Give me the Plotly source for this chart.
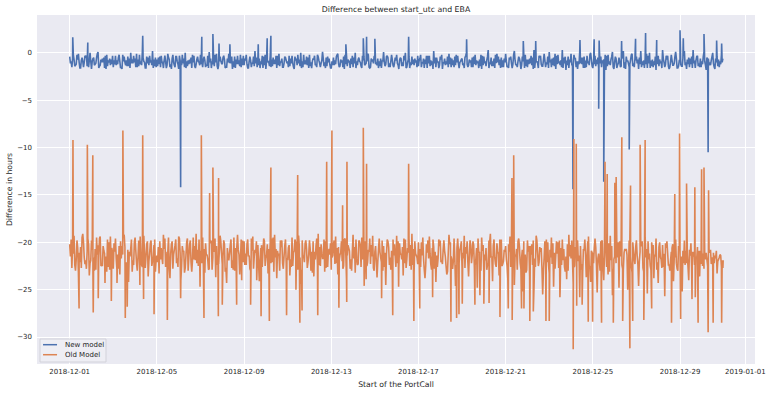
import numpy as np
import pandas as pd
import plotly.graph_objects as go

# ---------------- data ----------------
START = "2018-12-01"
STEP_DAYS = 0.1  # spacing of each set of band readings

# New model: three interleaved sets of band readings (hours)
new_band = [
    -0.4,-1.5,-0.7,-1.2,-0.1,-1.6,-0.9,-0.3,-1.4,-0.8,-1.7,-0.5,-1.1,0.1,-1.3,-0.6,-1.6,-0.2,-1.0,-0.7,
    -1.5,-0.3,-1.2,-0.9,-1.7,-0.4,-0.8,-1.4,0.0,-1.1,-0.6,-1.5,-0.2,-1.3,-0.9,-1.6,-0.5,-1.0,0.2,-1.4,
    -0.7,-1.2,-0.3,-1.6,-0.9,-0.1,-1.5,-0.6,-1.3,-0.4,-1.7,-0.8,-1.1,0.0,-1.4,-0.7,-1.6,-0.3,-1.2,-0.9,
    -0.2,-1.5,-0.8,-1.3,0.1,-1.6,-0.5,-1.0,-1.7,-0.4,-1.2,-0.7,-1.5,-0.1,-1.1,-0.9,-1.6,-0.3,-1.4,-0.6,
    -1.3,-0.2,-1.6,-0.8,-1.1,0.2,-1.5,-0.6,-1.2,-0.4,-1.7,-0.9,-0.3,-1.4,-0.7,-1.6,-0.1,-1.0,-1.5,-0.5,
    -0.9,-1.4,-0.3,-1.7,-0.6,-1.1,0.0,-1.5,-0.8,-1.3,-0.2,-1.6,-0.7,-1.2,-0.4,-1.5,0.1,-1.0,-1.4,-0.6,
    -1.6,-0.5,-1.2,-0.1,-1.4,-0.8,-1.7,-0.3,-1.0,-0.6,-1.5,0.0,-1.3,-0.9,-1.6,-0.4,-1.1,-0.2,-1.5,-0.7,
    -0.3,-1.3,-0.9,-1.6,0.1,-1.2,-0.5,-1.5,-0.7,-1.1,-0.2,-1.7,-0.6,-1.4,0.0,-1.0,-1.6,-0.4,-1.3,-0.8,
    -1.4,-0.2,-1.1,-0.7,-1.6,-0.3,-1.3,0.2,-1.5,-0.9,-0.4,-1.7,-0.6,-1.2,-0.1,-1.5,-0.8,-1.3,-0.3,-1.0,
    -0.6,-1.6,0.0,-1.3,-0.8,-1.5,-0.2,-1.1,-0.7,-1.7,-0.4,-1.4,0.3,-1.2,-0.9,-1.6,-0.1,-1.3,-0.5,-1.5,
    -0.1,-1.4,-0.7,-1.6,0.2,-1.2,-0.4,-1.7,-0.9,-0.2,-1.5,-0.6,-1.3,0.3,-1.0,-1.6,-0.3,-1.4,-0.8,-1.2,
    0.1,-1.5,-0.5,-1.7,-0.2,-1.3,0.3,-1.1,-0.8,-1.6,-0.1,-1.4,-0.6,-1.7,0.2,-1.2,-0.4,-1.5,-0.9,0.0,
    -1.6,-0.3,-1.2,0.3,-1.5,-0.7,-1.8,-0.2,-1.3,0.1,-1.0,-1.6,-0.5,-1.4,0.2,-1.7,-0.8,-1.2,-0.1,-1.5,
    -0.4,-1.7,0.2,-1.3,-0.6,-1.6,0.0,-1.4,-0.9,-1.8,-0.3,-1.1,0.3,-1.5,-0.7,-1.7,-0.2,-1.3,0.1,-1.6,
    -0.8,-1.4,0.2,-1.7,-0.5,-1.2,0.3,-1.6,-0.3,-1.5,-0.9,0.1,-1.8,-0.6,-1.3,0.0,-1.7,-0.4,-1.5,-0.2,
]
new_band_b = [
    -1.1,-0.6,-1.4,-0.2,-1.0,-0.8,-1.5,-0.4,-1.2,0.0,-0.9,-1.3,-0.5,-1.6,-0.7,-1.0,-0.3,-1.4,-0.6,-1.2,
    -0.8,-1.3,-0.5,-1.6,-0.2,-1.0,-1.4,-0.6,-1.1,-0.3,-1.5,-0.7,-1.2,0.1,-1.0,-0.4,-1.3,-0.8,-1.6,-0.5,
    -1.4,-0.4,-1.0,-0.8,-1.6,-0.5,-1.2,-0.2,-1.5,-0.9,-0.3,-1.3,-0.6,-1.6,-0.8,-1.1,-0.2,-1.4,-0.7,-1.0,
    -1.2,-0.7,-1.5,-0.3,-1.0,-0.9,-1.4,-0.1,-1.3,-0.8,-0.5,-1.6,-0.6,-1.1,-0.4,-1.5,-0.7,-1.2,-0.2,-1.3,
    -0.6,-1.2,-0.9,-1.5,-0.4,-1.1,-0.7,-1.6,-0.3,-1.3,-0.8,-1.0,-1.5,-0.5,-1.2,-0.3,-1.4,-0.6,-1.1,-0.8,
    -1.5,-0.6,-1.1,-0.4,-1.3,-0.7,-1.6,-0.2,-1.2,-0.5,-1.4,-0.9,-0.3,-1.5,-0.8,-1.1,-0.6,-1.6,-0.4,-1.2,
    -0.9,-1.3,-0.4,-1.1,-0.7,-1.5,-0.2,-1.4,-0.8,-1.2,-0.5,-1.6,-0.7,-1.0,-0.3,-1.3,-0.9,-1.5,-0.6,-1.1,
    -1.2,-0.6,-1.4,-0.8,-1.0,-0.4,-1.5,-0.9,-1.3,-0.5,-1.1,-0.8,-1.4,-0.3,-1.6,-0.7,-1.0,-1.2,-0.6,-1.5,
    -0.8,-1.5,-0.6,-1.2,-0.3,-1.4,-0.9,-1.1,-0.5,-1.6,-0.7,-1.0,-1.3,-0.4,-1.2,-0.6,-1.5,-0.2,-1.1,-0.9,
    -1.3,-0.5,-1.2,-0.7,-1.5,-0.4,-1.3,-0.9,-1.4,-0.3,-1.1,-0.8,-1.6,-0.5,-1.4,-0.2,-1.0,-0.7,-1.5,-0.6,
    -0.9,-1.6,-0.4,-1.2,-0.8,-1.5,-0.6,-1.3,-0.2,-1.4,-0.7,-1.1,-0.5,-1.6,-0.9,-0.3,-1.2,-0.8,-1.5,-0.4,
    -1.0,-0.6,-1.4,-0.3,-1.1,-0.8,-1.6,-0.4,-1.3,-0.7,-1.2,-0.2,-1.5,-0.9,-1.1,-0.5,-1.6,-0.3,-1.3,-0.7,
    -0.9,-1.4,-0.5,-1.1,-0.8,-1.6,-0.3,-1.2,-0.7,-1.5,-0.4,-1.3,-0.9,-0.6,-1.6,-0.4,-1.1,-0.7,-1.4,-0.6,
    -1.1,-0.5,-1.5,-0.8,-1.2,-0.3,-1.6,-0.7,-1.3,-0.5,-1.4,-0.9,-0.6,-1.2,-0.3,-1.5,-0.8,-1.1,-0.6,-1.4,
    -1.2,-0.6,-1.3,-0.7,-1.5,-0.4,-1.1,-0.8,-1.4,-0.6,-1.2,-0.9,-0.5,-1.3,-0.8,-1.1,-0.6,-1.4,-0.9,-1.0,
]
new_band_c = [
    -0.9,-0.2,-1.3,-0.7,-1.6,-0.5,-1.0,-0.3,-1.5,-0.9,-0.6,-1.2,-0.1,-1.4,-1.0,-0.5,-1.7,-0.8,-1.3,-0.3,
    -1.2,-0.8,-0.2,-1.5,-0.9,-1.3,-0.4,-1.6,-0.7,-1.0,-0.1,-1.4,-0.9,-0.5,-1.6,-1.1,-0.3,-1.3,-0.7,-1.5,
    -0.5,-1.5,-1.0,-0.3,-1.3,-0.7,-1.7,-1.0,-0.4,-1.2,-0.8,-0.2,-1.5,-0.9,-1.2,-0.5,-1.0,-1.6,-0.4,-1.3,
    -1.0,-0.4,-1.3,-1.6,-0.6,-1.2,-0.2,-1.4,-0.9,-1.1,-0.3,-1.5,-1.0,-0.6,-1.7,-0.4,-1.2,-0.8,-1.5,-0.3,
    -0.8,-1.6,-0.4,-1.1,-1.4,-0.5,-1.3,-0.9,-1.6,-0.2,-1.0,-1.4,-0.7,-1.2,-0.3,-1.3,-0.9,-1.5,-0.4,-1.1,
    -0.3,-1.1,-1.5,-0.8,-0.2,-1.4,-0.9,-1.2,-0.4,-1.6,-1.0,-0.6,-1.3,-0.2,-1.1,-0.8,-1.4,-0.5,-1.0,-1.6,
    -1.3,-0.8,-0.2,-1.5,-1.0,-0.4,-1.2,-0.7,-1.6,-0.3,-1.1,-0.9,-0.5,-1.4,-0.8,-1.2,-0.1,-1.6,-0.9,-0.4,
    -1.0,-1.6,-0.6,-0.9,-1.4,-0.3,-1.1,-0.2,-1.5,-0.8,-1.3,-0.5,-1.0,-0.8,-1.5,-0.4,-1.3,-0.7,-1.0,-0.3,
    -0.6,-1.0,-1.6,-0.3,-1.1,-0.8,-1.7,-0.5,-1.0,-1.3,-0.2,-1.1,-0.9,-1.5,-0.5,-1.3,-0.4,-1.0,-1.6,-0.7,
    -1.1,-0.3,-1.5,-1.0,-0.5,-1.2,-0.8,-1.6,-0.2,-1.3,-0.9,-0.4,-1.0,-1.4,-0.6,-1.1,-0.4,-1.6,-0.8,-1.0,
    -1.5,-0.5,-1.1,-0.2,-1.3,-0.9,-1.0,-0.4,-1.6,-0.7,-1.2,-0.3,-1.7,-0.8,-1.1,-0.5,-1.4,-0.1,-1.0,-1.6,
    -0.7,-1.3,-0.1,-1.2,-0.9,-1.5,-0.5,-1.8,-0.4,-1.0,-1.4,-0.6,-0.9,-1.2,-0.5,-1.6,-0.8,-1.1,-0.2,-1.4,
    -1.2,-0.7,-1.6,-0.4,-1.1,-0.2,-1.4,-0.9,-0.4,-1.7,-0.6,-1.1,-1.5,-0.3,-1.0,-0.9,-1.5,-0.2,-1.1,-0.8,
    -0.7,-1.2,-0.9,-1.6,-0.1,-1.1,-0.8,-1.5,-0.4,-1.2,-0.7,-1.6,-1.0,-0.3,-1.4,-0.9,-1.3,-0.4,-1.6,-0.8,
    -1.4,-0.3,-1.0,-1.2,-0.6,-1.6,-0.8,-0.4,-1.1,-1.5,-0.4,-1.3,-0.7,-1.0,-0.4,-1.5,-1.0,-0.7,-1.2,-0.6,
]

# Old model: three interleaved sets of band readings (hours)
old_band = [
    -20.2,-22.7,-19.3,-21.8,-23.2,-20.5,-19.1,-22.3,-21.0,-23.5,-19.8,-21.6,-22.9,-20.3,-19.4,-22.5,-21.2,-23.1,-20.0,-21.7,
    -22.8,-19.6,-21.3,-23.4,-20.4,-19.2,-22.1,-24.2,-20.7,-21.9,-19.5,-23.0,-20.9,-22.4,-19.3,-21.5,-23.6,-20.1,-22.0,-19.7,
    -21.4,-23.3,-20.6,-19.2,-22.6,-21.1,-23.8,-19.9,-20.8,-22.2,-19.4,-24.0,-21.0,-22.7,-19.6,-20.3,-23.1,-21.8,-19.1,-22.5,
    -20.9,-19.5,-23.2,-21.3,-22.8,-19.8,-20.5,-23.7,-21.6,-19.3,-22.3,-20.2,-24.3,-21.9,-19.7,-22.9,-20.6,-19.2,-23.4,-21.1,
    -19.9,-22.4,-21.5,-23.0,-19.4,-20.8,-22.6,-24.1,-20.3,-19.6,-21.7,-23.3,-20.0,-22.1,-19.2,-23.8,-21.2,-20.5,-22.8,-19.7,
    -21.9,-23.5,-19.5,-20.9,-22.2,-19.3,-24.4,-21.4,-20.1,-22.7,-19.8,-21.0,-23.6,-20.4,-19.1,-22.5,-21.7,-23.1,-19.6,-20.7,
    -22.9,-20.2,-19.4,-23.4,-21.3,-22.0,-19.7,-24.0,-20.6,-21.8,-19.2,-23.2,-22.4,-20.0,-19.5,-21.5,-23.9,-20.8,-22.3,-19.3,
    -21.0,-23.7,-19.6,-22.1,-20.4,-24.5,-19.9,-21.6,-23.0,-20.2,-19.3,-22.8,-21.2,-23.5,-19.7,-20.6,-22.5,-19.1,-23.3,-21.4,
    -20.0,-22.6,-19.5,-23.8,-21.1,-19.4,-22.9,-20.5,-24.2,-21.7,-19.8,-22.3,-20.9,-23.4,-19.2,-21.5,-22.0,-24.6,-19.6,-20.8,
    -22.7,-19.3,-21.2,-23.6,-20.3,-19.9,-22.4,-24.8,-21.0,-19.5,-23.1,-20.6,-22.2,-19.1,-24.1,-21.6,-20.1,-23.5,-19.7,-22.0,
    -20.4,-23.9,-19.4,-21.8,-24.5,-20.7,-19.6,-22.8,-25.2,-21.3,-19.8,-23.6,-20.2,-24.9,-19.3,-22.5,-21.0,-25.5,-19.9,-22.1,
    -23.3,-19.5,-24.7,-21.4,-20.0,-25.1,-19.7,-22.6,-23.9,-19.2,-21.7,-24.4,-20.5,-19.8,-25.8,-22.3,-20.8,-23.7,-19.4,-24.2,
    -21.1,-19.6,-25.3,-22.0,-19.9,-24.0,-20.6,-23.4,-19.3,-25.6,-21.5,-20.2,-24.8,-19.7,-22.9,-20.9,-25.0,-19.5,-23.2,-21.8,
    -19.8,-24.6,-20.4,-22.7,-19.4,-25.4,-21.2,-20.0,-23.8,-19.6,-24.3,-21.6,-20.3,-25.7,-19.9,-22.4,-21.0,-24.1,-19.7,-23.0,
    -20.6,-25.2,-19.8,-22.2,-24.0,-20.1,-21.5,-25.8,-20.5,-23.6,-20.9,-22.8,-21.1,-24.4,-20.8,-22.1,-21.4,-23.3,-21.6,-22.6,
]
old_band_b = [
    -21.5,-20.3,-22.4,-19.8,-21.1,-22.7,-20.0,-21.9,-19.6,-22.2,-20.8,-23.0,-19.5,-21.4,-22.5,-20.4,-21.8,-19.7,-22.9,-20.6,
    -20.1,-21.7,-22.8,-19.9,-21.3,-20.5,-23.2,-21.0,-19.7,-22.4,-20.9,-21.6,-19.4,-22.6,-21.2,-20.2,-22.0,-19.8,-21.5,-23.1,
    -22.1,-19.9,-21.6,-20.7,-22.3,-19.5,-21.2,-22.8,-20.3,-21.7,-19.6,-22.5,-20.9,-21.4,-23.0,-19.8,-21.9,-20.4,-22.2,-19.7,
    -21.3,-22.6,-20.1,-21.8,-19.7,-22.9,-21.0,-20.4,-22.3,-19.9,-21.5,-23.1,-20.6,-21.2,-22.7,-19.5,-21.7,-20.8,-22.0,-19.8,
    -22.4,-20.2,-21.4,-19.6,-22.8,-21.1,-20.3,-21.9,-22.6,-19.9,-21.3,-20.7,-22.2,-19.5,-21.6,-20.9,-23.0,-19.8,-21.5,-22.3,
    -20.6,-21.8,-22.5,-19.7,-21.2,-20.4,-22.9,-21.5,-19.8,-22.1,-20.7,-23.2,-21.0,-19.6,-22.4,-20.2,-21.7,-19.9,-22.6,-21.3,
    -21.6,-19.8,-22.2,-20.5,-21.1,-22.8,-19.6,-21.4,-20.9,-23.0,-21.7,-19.7,-22.3,-20.4,-21.8,-19.9,-22.5,-21.0,-20.3,-22.7,
    -20.4,-22.1,-21.0,-19.8,-22.6,-21.3,-20.5,-22.9,-19.7,-21.5,-22.2,-20.1,-21.8,-19.6,-22.7,-21.1,-20.3,-22.4,-19.9,-21.6,
    -22.3,-20.0,-21.7,-22.5,-19.8,-21.2,-20.6,-22.8,-21.4,-19.7,-22.1,-20.8,-21.5,-23.1,-20.2,-21.9,-19.6,-22.4,-21.0,-20.5,
    -21.1,-22.7,-19.9,-21.5,-22.2,-20.3,-21.8,-19.6,-22.6,-20.9,-21.3,-22.9,-19.8,-21.6,-20.4,-22.3,-21.0,-19.7,-22.5,-20.8,
    -21.8,-20.2,-22.6,-19.7,-21.3,-22.9,-20.5,-21.6,-19.9,-23.2,-21.0,-20.4,-22.4,-21.7,-19.8,-22.1,-20.6,-23.0,-21.2,-20.0,
    -20.8,-22.3,-21.1,-19.9,-22.7,-20.6,-21.9,-23.1,-20.2,-21.5,-19.8,-22.6,-21.3,-22.0,-20.4,-23.3,-19.7,-21.8,-22.5,-20.9,
    -22.2,-20.5,-21.7,-23.0,-19.8,-21.4,-22.6,-20.1,-21.9,-22.8,-20.3,-21.6,-19.9,-22.4,-21.1,-20.7,-23.2,-21.5,-20.0,-22.3,
    -21.4,-22.0,-20.2,-23.1,-21.6,-19.9,-22.5,-20.8,-21.3,-22.9,-20.5,-21.8,-22.6,-20.1,-21.2,-23.0,-20.6,-21.7,-22.2,-20.4,
    -21.9,-20.9,-22.4,-21.2,-20.8,-22.7,-21.0,-21.5,-22.1,-20.9,-22.5,-21.3,-21.8,-20.9,-22.3,-21.1,-21.7,-22.0,-21.3,-21.9,
]
old_band_c = [
    -19.7,-21.2,-23.0,-20.6,-22.1,-19.5,-21.6,-22.8,-20.2,-21.9,-23.3,-20.7,-21.3,-19.6,-22.4,-20.9,-21.5,-22.6,-19.4,-21.1,
    -21.0,-22.9,-20.4,-21.7,-19.3,-22.3,-20.8,-21.5,-23.1,-20.0,-22.2,-19.8,-21.4,-20.6,-22.7,-19.9,-21.2,-22.5,-20.3,-21.8,
    -20.5,-21.8,-22.3,-19.6,-21.0,-22.7,-20.2,-21.3,-19.7,-22.6,-21.1,-20.4,-23.2,-20.0,-21.6,-22.1,-19.5,-21.9,-20.8,-22.4,
    -22.2,-20.7,-21.4,-22.9,-20.1,-21.6,-19.6,-22.4,-20.9,-21.2,-19.8,-22.7,-21.5,-20.3,-21.9,-23.0,-20.5,-21.3,-19.7,-22.1,
    -21.2,-19.7,-22.8,-20.9,-21.5,-19.9,-22.3,-20.6,-21.0,-22.5,-20.2,-21.8,-19.6,-23.1,-20.7,-21.4,-19.8,-22.2,-20.4,-21.7,
    -20.3,-22.6,-21.1,-20.0,-22.9,-21.6,-19.8,-22.1,-20.7,-21.3,-23.0,-19.9,-21.8,-22.4,-20.5,-21.2,-19.7,-22.7,-21.0,-20.1,
    -21.4,-22.3,-20.6,-21.9,-19.9,-22.5,-21.2,-20.3,-22.8,-21.0,-20.5,-21.7,-19.8,-22.6,-21.3,-20.8,-22.1,-19.6,-21.5,-23.0,
    -22.0,-20.8,-21.6,-23.0,-21.1,-19.7,-22.4,-20.9,-21.4,-22.6,-19.9,-21.3,-20.5,-22.2,-21.8,-19.6,-22.9,-20.7,-21.2,-22.3,
    -20.7,-21.4,-22.9,-20.2,-21.7,-22.3,-19.7,-21.0,-22.6,-20.4,-21.9,-19.8,-22.5,-21.2,-20.0,-22.8,-21.5,-20.6,-22.2,-19.9,
    -21.7,-20.5,-22.1,-19.8,-21.4,-22.8,-20.6,-21.1,-23.0,-20.3,-21.9,-22.4,-20.0,-21.5,-19.7,-22.6,-21.2,-20.9,-22.3,-21.0,
    -22.5,-21.0,-20.3,-22.7,-21.5,-19.9,-22.2,-20.8,-21.7,-22.9,-20.4,-21.3,-19.8,-22.6,-21.1,-20.5,-22.8,-21.6,-19.7,-22.4,
    -21.6,-20.1,-22.8,-21.2,-19.8,-22.4,-20.7,-21.5,-23.0,-20.3,-21.9,-22.5,-20.0,-21.4,-22.9,-20.8,-21.3,-19.9,-22.6,-21.1,
    -20.6,-22.4,-21.2,-19.9,-22.7,-20.8,-21.6,-23.1,-20.4,-21.8,-22.2,-20.0,-21.5,-22.8,-20.7,-21.3,-19.8,-22.5,-21.0,-20.5,
    -22.3,-21.0,-19.9,-22.6,-20.7,-21.8,-22.9,-20.3,-21.5,-22.1,-20.0,-22.7,-21.2,-20.6,-22.4,-21.9,-20.2,-21.6,-22.8,-20.9,
    -21.5,-22.2,-20.9,-22.6,-21.4,-21.0,-22.4,-21.7,-20.9,-22.3,-21.2,-21.8,-22.5,-21.1,-21.6,-22.2,-20.9,-21.8,-21.4,-22.7,
]

# Isolated readings (days after 2018-12-01 00:00, hours)
new_spike_days = [0.14, 0.83, 3.35, 5.09, 6.06, 6.57, 6.85, 7.35, 8.65, 9.06, 9.23, 12.67, 13.47,
                  13.62, 14.00, 15.55, 18.21, 20.81, 21.38, 23.09, 23.41, 24.06, 24.27, 24.29,
                  24.50, 25.32, 25.67, 25.96, 26.42, 26.93, 28.00, 28.15, 29.10, 29.29, 29.68, 29.91]
new_spike_vals = [1.66, 1.1, 1.8, -14.2, 1.7, 2.0, 1.0, 0.9, 0.9, 1.55, 1.8, 0.9, 1.55,
                  1.7, 1.5, 1.7, 1.45, 1.25, 1.25, -14.4, 1.35, 1.45, -5.9, 1.3,
                  -13.6, 1.25, -10.2, 1.5, 2.1, 1.35, 2.4, 1.55, 2.0, -10.5, 1.3, 1.0]

old_spike_days = [
    0.15, 0.81, 1.06, 2.44, 3.35, 6.04, 6.42, 6.57, 6.83, 9.23, 10.46, 11.79, 12.03, 12.52, 12.72,
    13.47, 13.62, 15.55, 20.29, 20.37, 23.13, 23.24, 24.56, 24.66, 25.01, 25.07, 25.33, 25.73, 26.17,
    26.40, 27.76, 27.98, 28.30, 28.68, 28.99, 29.10, 29.31,
    0.43, 1.08, 1.31, 1.62, 1.91, 2.17, 2.55, 2.64, 3.22, 3.39, 3.87, 4.48, 5.09, 5.98, 6.16, 6.82,
    7.00, 7.66, 7.89, 8.30, 8.58, 8.78, 9.16, 9.95, 10.38, 10.56, 10.66, 11.38, 12.35, 12.71, 13.51,
    14.31, 14.82, 15.09, 15.79, 16.06, 16.65, 17.49, 17.75, 17.86, 18.01, 18.59, 18.82, 19.00, 19.24,
    19.74, 20.12, 20.30, 20.73, 20.84, 21.11, 21.27, 21.85, 22.00, 22.49, 23.10, 23.26, 23.51, 23.79,
    23.99, 24.40, 24.94, 25.37, 25.70, 25.83, 26.34, 26.70, 27.61, 28.03, 28.55, 28.83, 29.29, 29.52,
    29.91, 29.98,
]
old_spike_vals = [
    -9.2, -9.7, -10.8, -8.2, -8.7, -8.7, -14.8, -12.1, -13.2, -12.1, -12.9, -11.5, -8.2, -16.1, -11.5,
    -7.9, -11.7, -11.7, -13.2, -10.8, -9.1, -9.6, -11.5, -12.8, -13.7, -13.1, -8.9, -14.0, -9.7,
    -9.2, -14.9, -8.5, -13.8, -14.2, -12.3, -12.1, -14.5,
    -27.0, -27.4, -25.9, -24.3, -26.2, -24.3, -28.0, -26.8, -24.5, -26.0, -27.6, -28.2, -25.9, -24.7, -28.0, -27.8,
    -26.6, -26.6, -24.0, -26.6, -24.0, -27.8, -28.3, -27.7, -25.0, -28.5, -27.2, -27.7, -26.9, -26.3, -24.6,
    -25.9, -27.7, -24.7, -28.3, -27.0, -25.8, -28.4, -28.0, -27.6, -26.5, -26.6, -25.6, -26.5, -26.4,
    -27.9, -27.0, -28.2, -27.0, -27.0, -28.3, -27.3, -28.3, -28.3, -25.8, -31.3, -26.7, -26.6, -28.4,
    -28.4, -28.5, -28.5, -28.3, -31.2, -28.3, -28.2, -27.0, -28.5, -28.1, -26.0, -28.5, -29.5, -28.5,
    -28.5, -21.9,
]

x_tick_dates = ["2018-12-01", "2018-12-05", "2018-12-09", "2018-12-13", "2018-12-17",
                "2018-12-21", "2018-12-25", "2018-12-29", "2019-01-01"]
y_tick_vals = [-30, -25, -20, -15, -10, -5, 0]
series_names = ["New model", "Old Model"]

# ---------------- build series ----------------
start = pd.Timestamp(START)


def build(sets, spike_days, spike_vals):
    day_parts, val_parts = [], []
    for k, s in enumerate(sets):
        day_parts.append(np.arange(len(s)) * STEP_DAYS + k * STEP_DAYS / len(sets))
        val_parts.append(np.array(s))
    day_parts.append(np.array(spike_days))
    val_parts.append(np.array(spike_vals))
    days = np.concatenate(day_parts)
    vals = np.concatenate(val_parts)
    order = np.argsort(days, kind="stable")
    t = start + pd.to_timedelta(days[order], unit="D")
    return t, vals[order]


t_new, v_new = build([new_band, new_band_b, new_band_c], new_spike_days, new_spike_vals)
t_old, v_old = build([old_band, old_band_b, old_band_c], old_spike_days, old_spike_vals)

BLUE = "#4C72B0"
ORANGE = "#DD8452"
FONT = "DejaVu Sans"
TXT = "#262626"

fig = go.Figure()
fig.add_trace(go.Scatter(x=t_new, y=v_new, mode="lines", name=series_names[0],
                         line=dict(color=BLUE, width=1.6, simplify=False), showlegend=False))
fig.add_trace(go.Scatter(x=t_old, y=v_old, mode="lines", name=series_names[1],
                         line=dict(color=ORANGE, width=1.6, simplify=False), showlegend=False))

x0 = start - pd.Timedelta(days=1.5)
x1 = start + pd.Timedelta(days=31.44)

# compact legend box (matplotlib style), in plot-area fractions
shapes = [dict(type="rect", xref="paper", yref="paper", x0=0.0042, x1=0.0961, y0=0.0057, y1=0.0716,
               fillcolor="rgba(238,238,244,0.85)", line=dict(color="#d2d2da", width=1), layer="above")]
annotations = []
for name, col, yy in [(series_names[0], BLUE, 0.0553), (series_names[1], ORANGE, 0.0266)]:
    shapes.append(dict(type="line", xref="paper", yref="paper", x0=0.0084, x1=0.0279, y0=yy, y1=yy,
                       line=dict(color=col, width=1.5), layer="above"))
    annotations.append(dict(text=name, xref="paper", yref="paper", x=0.0362, y=yy,
                            xanchor="left", yanchor="middle", showarrow=False,
                            font=dict(family=FONT, size=7, color=TXT)))

fig.update_layout(
    width=770, height=393,
    margin=dict(l=37, r=15, t=15, b=29),
    paper_bgcolor="white",
    plot_bgcolor="#EAEAF2",
    font=dict(family=FONT, size=7, color=TXT),
    title=dict(text="Difference between start_utc and EBA", x=0.5, xref="paper",
               y=1 - 9 / 393, yref="container", yanchor="middle", pad=dict(t=0, b=0),
               font=dict(family=FONT, size=7.8, color=TXT)),
    showlegend=False,
    shapes=shapes,
    annotations=annotations,
    xaxis=dict(range=[x0, x1], showgrid=True, gridcolor="white", gridwidth=1,
               zeroline=False, showline=False, ticks="",
               tickvals=[pd.Timestamp(d) for d in x_tick_dates], ticktext=x_tick_dates,
               tickfont=dict(family=FONT, size=7, color=TXT), ticklabelstandoff=2,
               title=dict(text="Start of the PortCall", standoff=6,
                          font=dict(family=FONT, size=7.7, color=TXT)),
               automargin=False),
    yaxis=dict(range=[-32.85, 4.0], showgrid=True, gridcolor="white", gridwidth=1,
               zeroline=False, showline=False, ticks="",
               tickvals=y_tick_vals,
               ticktext=[("\u2212" + str(abs(v))) if v < 0 else str(v) for v in y_tick_vals],
               tickfont=dict(family=FONT, size=7, color=TXT), ticklabelstandoff=4,
               title=dict(text="Difference in hours", standoff=3,
                          font=dict(family=FONT, size=7.7, color=TXT)),
               automargin=False),
)

# the page's default body margin would shift the 770x393 figure; remove it
fig.write_html("out.html", config={"displayModeBar": False},
               post_script="document.body.style.margin='0';document.body.style.overflow='hidden';")
